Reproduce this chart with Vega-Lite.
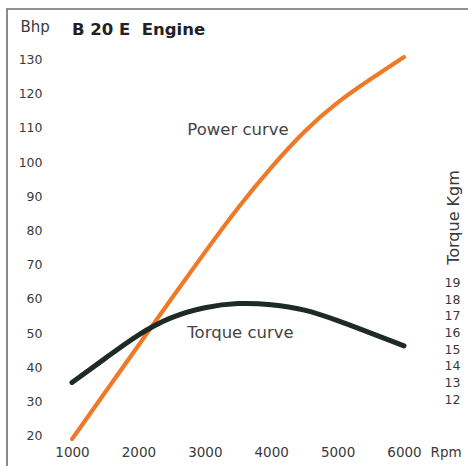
{
  "$schema": "https://vega.github.io/schema/vega-lite/v6.json",
  "width": 463,
  "height": 458,
  "autosize": {"type": "none"},
  "padding": {"left": 7, "top": 9, "right": 0, "bottom": 0},
  "background": "white",
  "config": {
    "view": {"stroke": "#6e6e6e", "strokeWidth": 1.6},
    "font": "DejaVu Sans",
    "axis": {"grid": false, "domain": false, "ticks": false, "labelColor": "#3a3a3a", "titleColor": "#3a3a3a", "labelFont": "DejaVu Sans", "titleFont": "DejaVu Sans", "titleFontWeight": "normal"}
  },
  "title": {
    "text": "B 20 E\u00a0 Engine",
    "anchor": "start",
    "frame": "group",
    "offset": 0,
    "dx": 65,
    "dy": 42,
    "baseline": "alphabetic",
    "font": "DejaVu Sans",
    "fontSize": 16.5,
    "fontWeight": "bold",
    "color": "#222222"
  },
  "datasets": {
    "power": [
      {"rpm": 1000, "bhp": 19},
      {"rpm": 1500, "bhp": 32.7},
      {"rpm": 2000, "bhp": 46.4},
      {"rpm": 2500, "bhp": 60.1},
      {"rpm": 3000, "bhp": 73.6},
      {"rpm": 3500, "bhp": 86.6},
      {"rpm": 4000, "bhp": 98.4},
      {"rpm": 4500, "bhp": 108.9},
      {"rpm": 5000, "bhp": 117.4},
      {"rpm": 5500, "bhp": 124.3},
      {"rpm": 6000, "bhp": 130.7}
    ],
    "torque": [
      {"rpm": 1000, "kgm": 13.0},
      {"rpm": 1500, "kgm": 14.45},
      {"rpm": 2000, "kgm": 15.85},
      {"rpm": 2500, "kgm": 16.9},
      {"rpm": 3000, "kgm": 17.5},
      {"rpm": 3500, "kgm": 17.75},
      {"rpm": 4000, "kgm": 17.68},
      {"rpm": 4500, "kgm": 17.35},
      {"rpm": 5000, "kgm": 16.72},
      {"rpm": 5500, "kgm": 15.97},
      {"rpm": 6000, "kgm": 15.2}
    ],
    "notes": [
      {"rpm": 3500, "bhp": 109.4, "label": "Power curve"},
      {"rpm": 3538, "bhp": 50.1, "label": "Torque curve"}
    ]
  },
  "layer": [
    {
      "layer": [
        {
          "data": {"name": "power"},
          "mark": {"type": "line", "color": "#ee7a28", "strokeWidth": 4.2, "strokeCap": "round", "interpolate": "natural"},
          "encoding": {
            "x": {"field": "rpm", "type": "quantitative", "scale": {"domain": [21, 6994], "nice": false, "zero": false},
              "axis": {"orient": "bottom", "offset": -22, "values": [1000, 2000, 3000, 4000, 5000, 6000], "format": "d", "labelFontSize": 13.5, "labelPadding": 0, "title": "Rpm", "titleFontSize": 13.5, "titleX": 423, "titleY": 0, "titleAlign": "left", "titleBaseline": "top", "titleAnchor": null}},
            "y": {"field": "bhp", "type": "quantitative", "scale": {"domain": [10.85, 144.77], "nice": false, "zero": false},
              "axis": {"orient": "left", "offset": -35, "values": [20, 30, 40, 50, 60, 70, 80, 90, 100, 110, 120, 130], "labelFontSize": 12.5, "labelPadding": 0, "title": "Bhp", "titleFontSize": 15, "titleAngle": 0, "titleX": -22, "titleY": 22.5, "titleAlign": "left", "titleBaseline": "alphabetic", "titleAnchor": null}}
          }
        },
        {
          "data": {"name": "notes"},
          "mark": {"type": "text", "fontSize": 16.5, "color": "#444444", "align": "center", "baseline": "middle", "font": "DejaVu Sans"},
          "encoding": {
            "x": {"field": "rpm", "type": "quantitative"},
            "y": {"field": "bhp", "type": "quantitative"},
            "text": {"field": "label"}
          }
        }
      ]
    },
    {
      "data": {"name": "torque"},
      "mark": {"type": "line", "color": "#1e2a24", "strokeWidth": 5, "strokeCap": "round", "interpolate": "natural"},
      "encoding": {
        "x": {"field": "rpm", "type": "quantitative"},
        "y": {"field": "kgm", "type": "quantitative", "scale": {"domain": [7.91, 35.48], "nice": false, "zero": false},
          "axis": {"orient": "right", "offset": -26, "values": [12, 13, 14, 15, 16, 17, 18, 19], "labelFontSize": 12.5, "labelPadding": 0, "title": "Torque Kgm", "titleFontSize": 16, "titleAngle": 270, "titleX": 9, "titleY": 208, "titleAlign": "center", "titleBaseline": "middle", "titleAnchor": null}}
      }
    }
  ],
  "resolve": {"scale": {"y": "independent"}}
}
